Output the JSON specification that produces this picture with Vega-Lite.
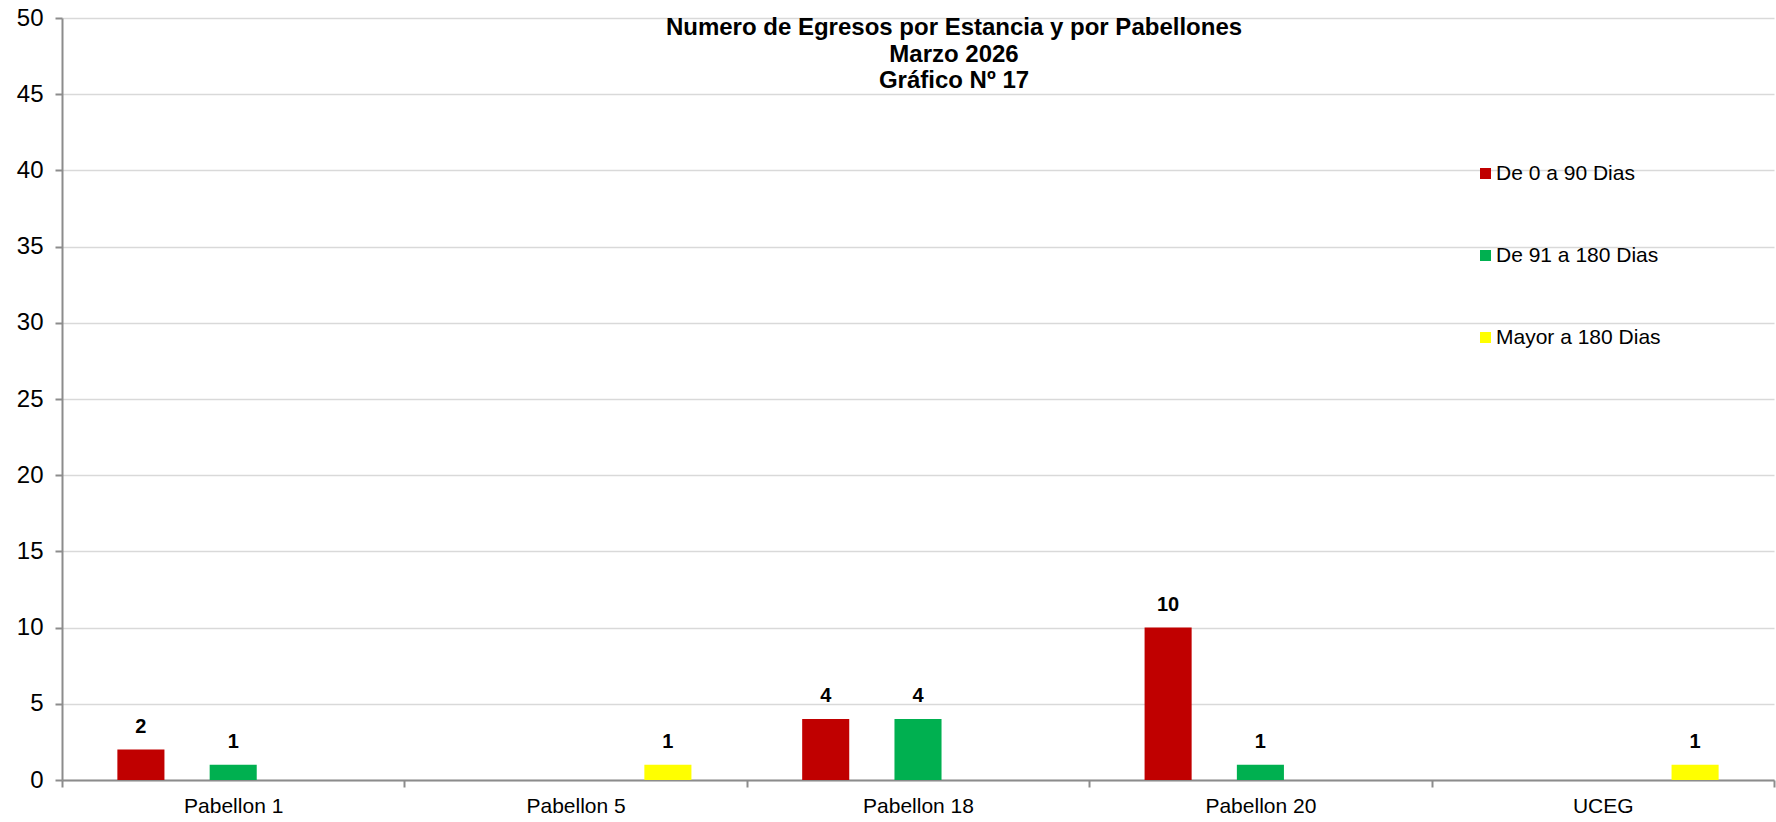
{
  "$schema": "https://vega.github.io/schema/vega-lite/v6.json",
  "width": 1712,
  "height": 762,
  "autosize": {"type": "none"},
  "padding": {"left": 62, "top": 18, "right": 2, "bottom": 42},
  "background": "white",
  "title": {
    "text": ["Numero de Egresos por Estancia y por Pabellones", "Marzo 2026", "Gráfico Nº 17"],
    "font": "Liberation Sans",
    "fontSize": 24,
    "fontWeight": "bold",
    "color": "black",
    "lineHeight": 26.5,
    "anchor": "middle",
    "frame": "group",
    "dx": 36,
    "offset": -87
  },
  "data": {
    "values": [
      {"pabellon": "Pabellon 1", "estancia": "De 0 a 90 Dias", "valor": 2},
      {"pabellon": "Pabellon 1", "estancia": "De 91 a 180 Dias", "valor": 1},
      {"pabellon": "Pabellon 5", "estancia": "Mayor a 180 Dias", "valor": 1},
      {"pabellon": "Pabellon 18", "estancia": "De 0 a 90 Dias", "valor": 4},
      {"pabellon": "Pabellon 18", "estancia": "De 91 a 180 Dias", "valor": 4},
      {"pabellon": "Pabellon 20", "estancia": "De 0 a 90 Dias", "valor": 10},
      {"pabellon": "Pabellon 20", "estancia": "De 91 a 180 Dias", "valor": 1},
      {"pabellon": "UCEG", "estancia": "Mayor a 180 Dias", "valor": 1}
    ]
  },
  "encoding": {
    "x": {
      "field": "pabellon",
      "type": "nominal",
      "scale": {
        "domain": ["Pabellon 1", "Pabellon 5", "Pabellon 18", "Pabellon 20", "UCEG"],
        "paddingInner": 0,
        "paddingOuter": 0
      },
      "axis": {
        "title": null,
        "labelAngle": 0,
        "tickBand": "extent",
        "tickSize": 7,
        "tickColor": "#8c8c8c",
        "tickWidth": 2,
        "domainColor": "#8c8c8c",
        "domainWidth": 2,
        "labelFont": "Liberation Sans",
        "labelFontSize": 21,
        "labelColor": "black",
        "labelPadding": 8,
        "grid": false
      }
    },
    "xOffset": {
      "field": "estancia",
      "type": "nominal",
      "scale": {
        "domain": ["De 0 a 90 Dias", "De 91 a 180 Dias", "Mayor a 180 Dias"],
        "paddingInner": 0.49,
        "paddingOuter": 0.6
      }
    },
    "y": {
      "field": "valor",
      "type": "quantitative",
      "scale": {"domain": [0, 50], "nice": false},
      "axis": {
        "title": null,
        "values": [0, 5, 10, 15, 20, 25, 30, 35, 40, 45, 50],
        "grid": true,
        "gridColor": "#d9d9d9",
        "gridWidth": 1.5,
        "domainColor": "#8c8c8c",
        "domainWidth": 2,
        "tickColor": "#8c8c8c",
        "tickWidth": 2,
        "tickSize": 7,
        "labelFont": "Liberation Sans",
        "labelFontSize": 24,
        "labelColor": "black",
        "labelPadding": 12
      }
    }
  },
  "layer": [
    {
      "mark": {"type": "bar"},
      "encoding": {
        "color": {
          "field": "estancia",
          "type": "nominal",
          "scale": {
            "domain": ["De 0 a 90 Dias", "De 91 a 180 Dias", "Mayor a 180 Dias"],
            "range": ["#C00000", "#00B050", "#FFFF00"]
          },
          "legend": {
            "orient": "none",
            "legendX": 1413,
            "legendY": 145,
            "title": null,
            "symbolType": "square",
            "symbolSize": 121,
            "symbolStrokeWidth": 0,
            "labelFont": "Liberation Sans",
            "labelFontSize": 21,
            "labelColor": "black",
            "labelOffset": 0,
            "labelLimit": 400,
            "rowPadding": 60,
            "padding": 0
          }
        }
      }
    },
    {
      "mark": {
        "type": "text",
        "baseline": "bottom",
        "dy": -13,
        "font": "Liberation Sans",
        "fontSize": 20,
        "fontWeight": "bold",
        "color": "black"
      },
      "encoding": {"text": {"field": "valor", "type": "quantitative"}}
    }
  ],
  "config": {"view": {"stroke": null}}
}
